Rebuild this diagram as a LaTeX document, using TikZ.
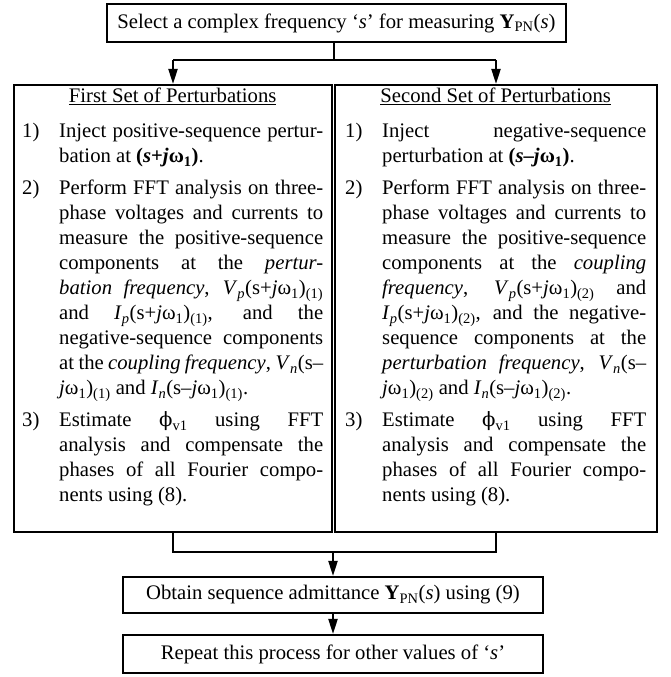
\documentclass[tikz,border=0pt]{standalone}
\usepackage{fontspec}
\setmainfont{Liberation Serif}
\newfontfamily\phifont[Scale=0.95]{DejaVu Serif}
\usetikzlibrary{arrows.meta}
\newcommand{\jw}{\textit{j}ω\textsubscript{1}}
\newcommand{\Vpx}[1]{\textit{V}\textsubscript{\textit{p}}(s+\jw)\textsubscript{#1}}
\newcommand{\Ipx}[1]{\textit{I}\textsubscript{\textit{p}}(s+\jw)\textsubscript{#1}}
\newcommand{\Inx}[1]{\textit{I}\textsubscript{\textit{n}}(s--\jw)\textsubscript{#1}}
\newcommand{\phiv}{{\phifont ϕ}\textsubscript{v1}}
\newcommand{\itm}[1]{\par\hangindent=37pt\hangafter=1\noindent\makebox[37pt][l]{#1}\ignorespaces}
\newcommand{\setupblock}{\setlength{\parskip}{7pt}\hyphenpenalty=10000\exhyphenpenalty=10000\tolerance=10000\emergencystretch=0pt}
\begin{document}
\begin{tikzpicture}[x=1pt,y=1pt,
  boxn/.style={draw, line width=2pt, inner sep=0pt, rectangle},
  conn/.style={line width=2pt, line join=miter},
  arr/.style={line width=2pt, -{Triangle[length=15pt,width=9pt]}},
  txtblock/.style={anchor=base west, inner sep=0pt, text width=301pt, align=justify, font=\fontsize{20.7}{25}\selectfont}]
\useasboundingbox (0,0) rectangle (670,677);

% boxes
\node[boxn, minimum width=459pt, minimum height=38pt, font=\fontsize{20.7}{25}\selectfont] (top) at (336.5,654)
  {Select a complex frequency `\textit{s}' for measuring \textbf{Y}\textsubscript{PN}(\textit{s})};
\node[boxn, minimum width=318pt, minimum height=447pt] (L) at (173,368.5) {};
\node[boxn, minimum width=322pt, minimum height=447pt] (R) at (496,368.5) {};
\node[boxn, minimum width=420pt, minimum height=36pt, font=\fontsize{20.7}{25}\selectfont] (O) at (333,82)
  {Obtain sequence admittance \textbf{Y}\textsubscript{PN}(\textit{s}) using (9)};
\node[boxn, minimum width=420pt, minimum height=38pt, font=\fontsize{20.7}{25}\selectfont] (P) at (333,23)
  {Repeat this process for other values of `\textit{s}'};

% texts in panels
\node[txtblock] (Ltxt) at (22,574) {\setupblock
{\centering\underline{First Set of Perturbations}\par}
\vspace{3pt}
\itm{1)}Inject positive-sequence pertur-\linebreak bation at \textbf{(\textit{s}+\jw)}.
\itm{2)}Perform FFT analysis on three-\linebreak phase voltages and currents to\linebreak measure the positive-sequence\linebreak components at the \textit{pertur-}\linebreak \textit{bation frequency}, \Vpx{(1)}\linebreak and \Ipx{(1)}, and the\linebreak negative-sequence components\linebreak at the \textit{coupling frequency}, \textit{V}\textsubscript{\textit{n}}(s--\linebreak \textit{j}ω\textsubscript{1})\textsubscript{(1)} and \Inx{(1)}.
\itm{3)}Estimate \phiv{} using FFT\linebreak analysis and compensate the\linebreak phases of all Fourier compo-\linebreak nents using (8).\par};

\node[txtblock] (Rtxt) at (345,574) {\setupblock
{\centering\underline{Second Set of Perturbations}\par}
\vspace{3pt}
\itm{1)}Inject negative-sequence\linebreak perturbation at \textbf{(\textit{s}--\jw)}.
\itm{2)}Perform FFT analysis on three-\linebreak phase voltages and currents to\linebreak measure the positive-sequence\linebreak components at the \textit{coupling}\linebreak \textit{frequency}, \Vpx{(2)} and\linebreak \Ipx{(2)}, and the negative-\linebreak sequence components at the\linebreak \textit{perturbation frequency}, \textit{V}\textsubscript{\textit{n}}(s--\linebreak \textit{j}ω\textsubscript{1})\textsubscript{(2)} and \Inx{(2)}.
\itm{3)}Estimate \phiv{} using FFT\linebreak analysis and compensate the\linebreak phases of all Fourier compo-\linebreak nents using (8).\par};

% connectors
\coordinate (split) at (334,617);
\coordinate (join) at (334,125);
\draw[conn] (top.south -| split) -- (split);
\draw[conn] (L.north |- split) -- (R.north |- split);
\draw[arr] (L.north |- split) -- (L.north);
\draw[arr] (R.north |- split) -- (R.north);
\draw[conn] (L.south) -- (L.south |- join) -- (R.south |- join) -- (R.south);
\draw[arr] (O.north |- join) -- (O.north);
\draw[arr] (O.south) -- (P.north);
\end{tikzpicture}
\end{document}
